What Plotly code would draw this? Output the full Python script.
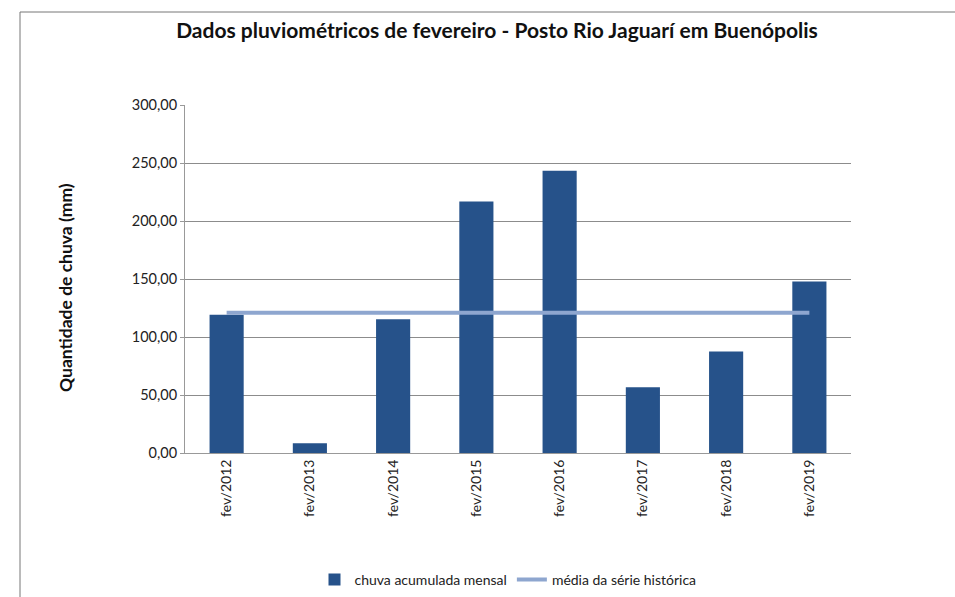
import plotly.graph_objects as go

categories = ["fev/2012", "fev/2013", "fev/2014", "fev/2015", "fev/2016", "fev/2017", "fev/2018", "fev/2019"]
chuva_mensal = [119.2, 8.4, 115.2, 216.8, 243.3, 56.6, 87.6, 147.9]
media_historica = [120.9] * 8
y_ticks = [0, 50, 100, 150, 200, 250, 300]

W, H = 955, 597
L, R, T, B = 185, 104, 105, 144
pw, ph = W - L - R, H - T - B

fig = go.Figure()
fig.add_trace(go.Bar(
    x=categories, y=chuva_mensal, name="chuva acumulada mensal",
    marker=dict(color="#26528A", line=dict(width=0)),
))
fig.add_trace(go.Scatter(
    x=categories, y=media_historica, name="média da série histórica",
    mode="lines", line=dict(color="#8EA6CF", width=4),
))

fig.update_layout(
    width=W, height=H,
    margin=dict(l=L, r=R, t=T, b=B, autoexpand=False),
    paper_bgcolor="white", plot_bgcolor="white",
    separators=",.",
    bargap=0.59,
    font=dict(family="Lato, Open Sans, sans-serif", color="#222"),
    title=dict(
        text="<b>Dados pluviométricos de fevereiro - Posto Rio Jaguarí em Buenópolis</b>",
        x=497 / W, xanchor="center", y=1 - 31 / H, yanchor="middle",
        font=dict(size=21, color="#111"),
    ),
    showlegend=True,
    legend=dict(
        orientation="h", x=(508 - L) / pw, xanchor="center",
        y=(H - 580 - B) / ph, yanchor="middle",
        font=dict(size=14, color="#222"), itemwidth=30, traceorder="normal",
        bgcolor="rgba(0,0,0,0)",
    ),
    xaxis=dict(
        type="category", tickangle=-90, showgrid=False, automargin=False,
        showline=True, linecolor="#999", linewidth=1,
        tickfont=dict(size=14, color="#222"), ticks="",
    ),
    yaxis=dict(
        range=[0, 300], tickvals=y_ticks, tickformat=".2f", automargin=False,
        showgrid=True, gridcolor="#8c8c8c", gridwidth=1,
        showline=True, linecolor="#999", linewidth=1,
        ticks="outside", ticklen=4, tickcolor="#999",
        tickfont=dict(size=14.5, color="#222"),
        zeroline=False,
    ),
    annotations=[dict(
        text="<b>Quantidade de chuva (mm)</b>", textangle=-90,
        xref="paper", yref="paper", x=(65 - L) / pw, y=(H - 288 - B) / ph,
        xanchor="center", yanchor="middle", showarrow=False,
        font=dict(size=17.5, color="#111"),
    )],
)

# outer frame lines (left and top)
fx0 = (20 - L) / pw
fy_top = (H - 12 - B) / ph
fy_bot = (0 - B) / ph
fig.add_shape(type="line", xref="paper", yref="paper", x0=fx0, x1=fx0, y0=fy_bot, y1=fy_top,
              line=dict(color="#777", width=1))
fig.add_shape(type="line", xref="paper", yref="paper", x0=fx0, x1=(W - L) / pw, y0=fy_top, y1=fy_top,
              line=dict(color="#777", width=1))

fig.write_html("out.html", config={"displayModeBar": False},
               post_script="document.body.style.margin='0';")
